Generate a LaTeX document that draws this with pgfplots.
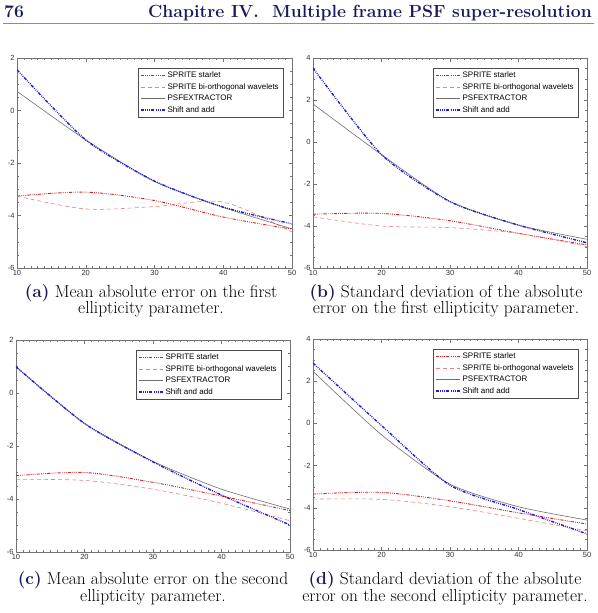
\documentclass[border=0pt]{standalone}
\usepackage{fontspec}
\usepackage{pgfplots}
\pgfplotsset{compat=1.18}
\newfontfamily\plotfont{Liberation Sans}

\definecolor{navy}{RGB}{25,25,95}
\definecolor{starred}{RGB}{220,30,30}
\definecolor{biopink}{RGB}{240,125,125}
\definecolor{psfgray}{RGB}{110,110,110}
\definecolor{sablue}{RGB}{30,30,220}

\tikzset{
  capfont/.style={font=\fontsize{17.4}{20}\selectfont},
  dashdotdot/.style={dash pattern=on 3.2pt off 1.2pt on 0.8pt off 1.2pt on 0.8pt off 1.2pt on 0.8pt off 1.2pt},
}

\pgfplotsset{
  idl/.style={
    scale only axis,
    xmin=10, xmax=50,
    xtick={10,20,30,40,50},
    minor x tick num=9,
    ymin=-6,
    minor y tick num=3,
    tick align=inside,
    xtick pos=both, ytick pos=both,
    major tick length=3.5pt, minor tick length=2pt,
    axis line style={black!55},
    every tick/.style={black!55, line width=0.4pt},
    /pgf/number format/assume math mode=true,
    tick label style={font=\plotfont\fontsize{7.5}{8.5}\selectfont, text=black!80},
    xticklabel style={yshift=1pt},
    yticklabel style={xshift=1pt},
    legend cell align=left,
    legend style={at={(1,1)}, anchor=north east, xshift=-9pt, yshift=-10pt,
      draw=black!70, line width=0.5pt, fill=white,
      font=\plotfont\fontsize{8}{9}\selectfont,
      inner xsep=2pt, inner ysep=1.8pt, row sep=0.2pt},
  },
  starlet/.style={color=starred, line width=0.9pt, smooth, tension=0.5, dashdotdot,
    legend image code/.code={\draw[draw=starred, line width=0.9pt, dashdotdot] (0pt,0pt) -- (24pt,0pt);}},
  bio/.style={color=biopink, line width=0.6pt, smooth, tension=0.5,
    dash pattern=on 4pt off 3pt,
    legend image code/.code={\draw[draw=biopink, line width=0.6pt, dash pattern=on 4pt off 3pt] (0pt,0pt) -- (24pt,0pt);}},
  psfex/.style={color=psfgray, line width=0.6pt, smooth, tension=0.4,
    legend image code/.code={\draw[draw=psfgray, line width=0.6pt] (0pt,0pt) -- (24pt,0pt);}},
  shiftadd/.style={color=sablue, line width=1.4pt, smooth, tension=0.4, dashdotdot,
    legend image code/.code={\draw[draw=sablue, line width=1.4pt, dashdotdot] (0pt,0pt) -- (24pt,0pt);}},
}

\begin{document}
\begin{tikzpicture}
\useasboundingbox (0pt,0pt) rectangle (597pt,-613pt);

% running head
\node[anchor=base west, inner sep=0pt, text=navy] at (4pt,-17.5pt)
  {\fontsize{17.6}{21}\selectfont\bfseries 76};
\node[anchor=base east, inner sep=0pt, text=navy] at (592pt,-17.5pt)
  {\fontsize{17.6}{21}\selectfont\bfseries Chapitre IV.\ \ Multiple frame PSF super-resolution};
\draw[black!45, line width=1.8pt] (3pt,-23.5pt) -- (594pt,-23.5pt);

% (a) mean absolute error, first ellipticity parameter
\begin{axis}[idl, at={(17pt,-268pt)}, anchor=south west,
  width=275pt, height=210pt, ymax=2, ytick={-6,-4,-2,0,2}]
\addplot[starlet] coordinates {(10,-3.26) (20,-3.11) (30,-3.43) (40,-4.06) (50,-4.52)};
\addlegendentry{SPRITE starlet}
\addplot[bio] coordinates {(10,-3.26) (20,-3.75) (30,-3.66) (40,-3.49) (50,-4.63)};
\addlegendentry{SPRITE bi-orthogonal wavelets}
\addplot[psfex] coordinates {(10,0.73) (20,-1.12) (30,-2.70) (40,-3.69) (50,-4.51)};
\addlegendentry{PSFEXTRACTOR}
\addplot[shiftadd] coordinates {(10,1.55) (20,-1.12) (30,-2.69) (40,-3.68) (50,-4.32)};
\addlegendentry{Shift and add}
\end{axis}

% (b) standard deviation, first ellipticity parameter
\begin{axis}[idl, at={(313pt,-268pt)}, anchor=south west,
  width=274pt, height=210pt, ymax=4, ytick={-6,-4,-2,0,2,4}]
\addplot[starlet] coordinates {(10,-3.44) (20,-3.40) (30,-3.75) (40,-4.35) (50,-4.90)};
\addlegendentry{SPRITE starlet}
\addplot[bio] coordinates {(10,-3.56) (20,-4.00) (30,-4.08) (40,-4.35) (50,-4.98)};
\addlegendentry{SPRITE bi-orthogonal wavelets}
\addplot[psfex] coordinates {(10,1.81) (20,-0.60) (30,-2.83) (40,-3.96) (50,-4.63)};
\addlegendentry{PSFEXTRACTOR}
\addplot[shiftadd] coordinates {(10,3.52) (20,-0.60) (30,-2.84) (40,-3.96) (50,-4.80)};
\addlegendentry{Shift and add}
\end{axis}

\node[capfont, anchor=base, inner sep=0pt] at (151pt,-297pt)
  {{\color{navy}\bfseries (a)} Mean absolute error on the first};
\node[capfont, anchor=base, inner sep=0pt] at (151pt,-313.5pt)
  {ellipticity parameter.};
\node[capfont, anchor=base, inner sep=0pt] at (446pt,-297pt)
  {{\color{navy}\bfseries (b)} Standard deviation of the absolute};
\node[capfont, anchor=base, inner sep=0pt] at (446pt,-313.5pt)
  {error on the first ellipticity parameter.};

% (c) mean absolute error, second ellipticity parameter
\begin{axis}[idl, at={(16pt,-552pt)}, anchor=south west,
  width=274pt, height=212pt, ymax=2, ytick={-6,-4,-2,0,2}]
\addplot[starlet] coordinates {(10,-3.12) (20,-3.00) (30,-3.37) (40,-3.89) (50,-4.44)};
\addlegendentry{SPRITE starlet}
\addplot[bio] coordinates {(10,-3.26) (20,-3.30) (30,-3.63) (40,-4.16) (50,-4.82)};
\addlegendentry{SPRITE bi-orthogonal wavelets}
\addplot[psfex] coordinates {(10,0.99) (20,-1.15) (30,-2.58) (40,-3.63) (50,-4.38)};
\addlegendentry{PSFEXTRACTOR}
\addplot[shiftadd] coordinates {(10,0.99) (20,-1.15) (30,-2.60) (40,-3.85) (50,-4.98)};
\addlegendentry{Shift and add}
\end{axis}

% (d) standard deviation, second ellipticity parameter
\begin{axis}[idl, at={(313pt,-550pt)}, anchor=south west,
  width=274pt, height=211pt, ymax=4, ytick={-6,-4,-2,0,2,4}]
\addplot[starlet] coordinates {(10,-3.35) (20,-3.27) (30,-3.67) (40,-4.24) (50,-4.77)};
\addlegendentry{SPRITE starlet}
\addplot[bio] coordinates {(10,-3.59) (20,-3.60) (30,-3.95) (40,-4.50) (50,-5.09)};
\addlegendentry{SPRITE bi-orthogonal wavelets}
\addplot[psfex] coordinates {(10,2.47) (20,-0.54) (30,-2.88) (40,-3.95) (50,-4.58)};
\addlegendentry{PSFEXTRACTOR}
\addplot[shiftadd] coordinates {(10,2.86) (20,-0.10) (30,-2.93) (40,-4.08) (50,-5.24)};
\addlegendentry{Shift and add}
\end{axis}

\node[capfont, anchor=base, inner sep=0pt] at (153pt,-584pt)
  {{\color{navy}\bfseries (c)} Mean absolute error on the second};
\node[capfont, anchor=base, inner sep=0pt] at (153pt,-601pt)
  {ellipticity parameter.};
\node[capfont, anchor=base, inner sep=0pt] at (445pt,-584pt)
  {{\color{navy}\bfseries (d)} Standard deviation of the absolute};
\node[capfont, anchor=base, inner sep=0pt] at (445pt,-601pt)
  {error on the second ellipticity parameter.};
\end{tikzpicture}
\end{document}
